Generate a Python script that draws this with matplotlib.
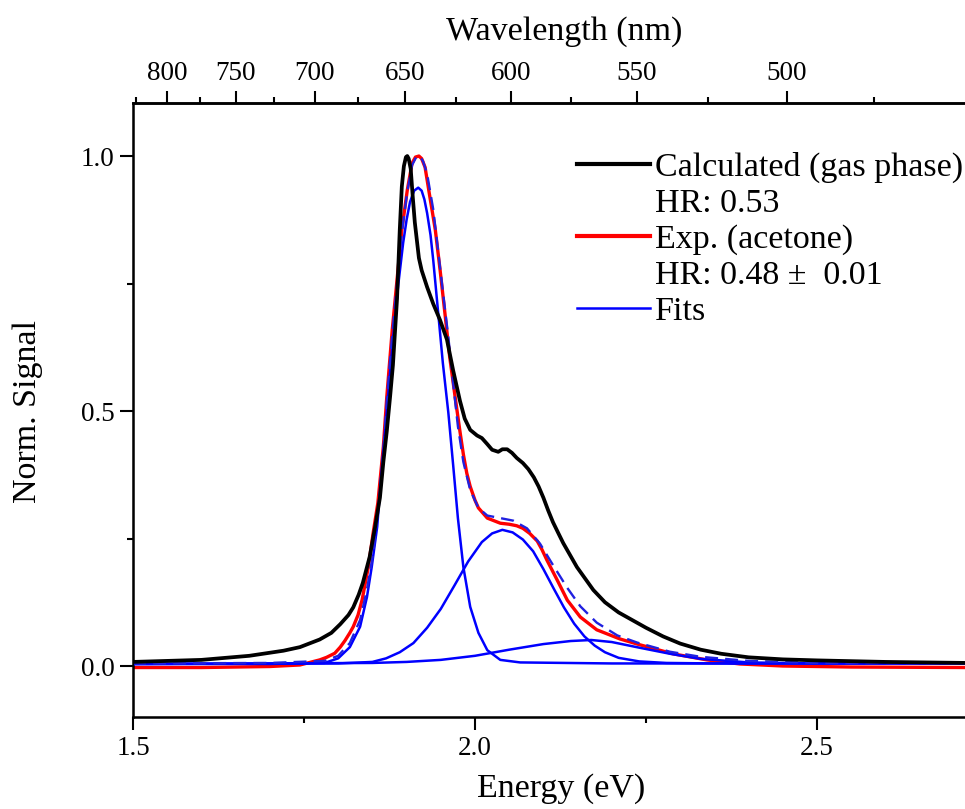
import matplotlib
matplotlib.use("Agg")
import matplotlib.pyplot as plt
from matplotlib.lines import Line2D

plt.rcParams['font.family'] = ['Liberation Serif', 'DejaVu Serif']

# calculated spectrum (gas phase)
calc_e = [1.50, 1.60, 1.67, 1.72, 1.744, 1.773, 1.79, 1.803, 1.815, 1.822, 1.83, 1.836, 1.846,
          1.854, 1.861, 1.866, 1.871, 1.876, 1.880, 1.886, 1.890, 1.893, 1.896, 1.899, 1.901,
          1.903, 1.906, 1.909, 1.912, 1.915, 1.918, 1.922, 1.930, 1.939, 1.949, 1.959, 1.968,
          1.978, 1.985, 1.993, 2.003, 2.010, 2.018, 2.025, 2.034, 2.040, 2.047, 2.054, 2.061,
          2.070, 2.078, 2.086, 2.093, 2.100, 2.107, 2.114, 2.122, 2.129, 2.149, 2.173, 2.19, 2.21,
          2.23, 2.25, 2.275, 2.30, 2.33, 2.36, 2.40, 2.45, 2.50, 2.60, 2.72]
calc_y = [0.008, 0.012, 0.020, 0.030, 0.037, 0.052, 0.065, 0.082, 0.100, 0.115, 0.140, 0.163, 0.214,
          0.273, 0.330, 0.400, 0.460, 0.530, 0.590, 0.720, 0.855, 0.940, 0.980, 0.998, 1.000,
          0.995, 0.975, 0.920, 0.870, 0.835, 0.800, 0.776, 0.743, 0.710, 0.678, 0.640, 0.580,
          0.520, 0.485, 0.463, 0.452, 0.447, 0.435, 0.424, 0.420, 0.425, 0.425, 0.418, 0.408,
          0.398, 0.386, 0.370, 0.352, 0.330, 0.305, 0.282, 0.260, 0.241, 0.194, 0.149, 0.125, 0.105,
          0.090, 0.075, 0.058, 0.044, 0.032, 0.024, 0.017, 0.013, 0.011, 0.008, 0.006]

# experiment (acetone)
exp_e = [1.50, 1.60, 1.70, 1.744, 1.773, 1.783, 1.795, 1.803, 1.81, 1.817, 1.822, 1.829, 1.835,
         1.844, 1.851, 1.858, 1.866, 1.871, 1.879, 1.886, 1.893, 1.901, 1.908, 1.913, 1.918,
         1.922, 1.927, 1.934, 1.942, 1.949, 1.956, 1.963, 1.971, 1.978, 1.983, 1.988, 1.993,
         2.000, 2.005, 2.018, 2.037, 2.050, 2.061, 2.070, 2.080, 2.091, 2.098, 2.105, 2.120,
         2.135, 2.154, 2.178, 2.212, 2.24, 2.289, 2.339, 2.387, 2.45, 2.55, 2.72]
exp_y = [-0.003, -0.003, -0.001, 0.002, 0.012, 0.017, 0.025, 0.037, 0.050, 0.065, 0.077, 0.100, 0.130,
         0.194, 0.260, 0.320, 0.430, 0.527, 0.659, 0.757, 0.855, 0.933, 0.986, 0.998, 1.000,
         0.995, 0.978, 0.920, 0.855, 0.776, 0.692, 0.606, 0.527, 0.460, 0.415, 0.378, 0.352,
         0.325, 0.310, 0.290, 0.280, 0.278, 0.275, 0.270, 0.260, 0.245, 0.228, 0.208, 0.169,
         0.129, 0.096, 0.071, 0.053, 0.042, 0.024, 0.012, 0.004, 0.000, -0.002, -0.003]

# fitted components
fit1_e = [1.50, 1.70, 1.78, 1.80, 1.817, 1.832, 1.842, 1.849, 1.857, 1.862, 1.871, 1.880, 1.888,
          1.895, 1.900, 1.905, 1.911, 1.917, 1.922, 1.926, 1.930, 1.935, 1.939, 1.946, 1.953,
          1.961, 1.968, 1.975, 1.983, 1.993, 2.005, 2.018, 2.037, 2.066, 2.20, 2.72]
fit1_y = [0.004, 0.004, 0.006, 0.015, 0.037, 0.077, 0.135, 0.194, 0.273, 0.360, 0.500, 0.640, 0.750,
          0.830, 0.875, 0.910, 0.932, 0.938, 0.932, 0.915, 0.888, 0.845, 0.795, 0.695, 0.594,
          0.497, 0.395, 0.290, 0.194, 0.116, 0.065, 0.031, 0.012, 0.007, 0.005, 0.005]

fit2_e = [1.50, 1.80, 1.85, 1.87, 1.89, 1.91, 1.93, 1.95, 1.97, 1.99, 2.01, 2.025, 2.04,
          2.055, 2.07, 2.085, 2.10, 2.115, 2.13, 2.145, 2.16, 2.175, 2.19, 2.21, 2.24,
          2.28, 2.35, 2.72]
fit2_y = [0.004, 0.005, 0.008, 0.015, 0.027, 0.045, 0.075, 0.112, 0.158, 0.205, 0.243, 0.260, 0.267,
          0.262, 0.248, 0.225, 0.190, 0.152, 0.115, 0.083, 0.058, 0.040, 0.027, 0.016, 0.009,
          0.006, 0.005, 0.005]

fit3_e = [1.50, 1.85, 1.90, 1.95, 2.00, 2.05, 2.10, 2.14, 2.17, 2.20, 2.24, 2.285, 2.33, 2.40,
          2.50, 2.72]
fit3_y = [0.004, 0.006, 0.008, 0.012, 0.020, 0.032, 0.043, 0.049, 0.051, 0.047, 0.036, 0.024, 0.014,
          0.007, 0.005, 0.005]

# sum of fits (dashed)
sum_e = [1.50, 1.70, 1.78, 1.80, 1.817, 1.832, 1.842, 1.851, 1.858, 1.866, 1.871, 1.879, 1.886,
         1.893, 1.901, 1.908, 1.914, 1.919, 1.924, 1.930, 1.939, 1.946, 1.953, 1.961, 1.968,
         1.975, 1.983, 1.993, 2.005, 2.018, 2.037, 2.056, 2.076, 2.095, 2.114, 2.135, 2.154,
         2.178, 2.208, 2.237, 2.285, 2.33, 2.40, 2.50, 2.72]
sum_y = [0.005, 0.006, 0.010, 0.020, 0.045, 0.090, 0.150, 0.220, 0.300, 0.420, 0.520, 0.650, 0.750,
         0.850, 0.930, 0.982, 0.998, 1.000, 0.990, 0.965, 0.895, 0.815, 0.735, 0.645, 0.555,
         0.470, 0.400, 0.345, 0.310, 0.295, 0.290, 0.285, 0.270, 0.240, 0.198, 0.153, 0.117,
         0.085, 0.060, 0.046, 0.028, 0.018, 0.010, 0.006, 0.005]

wl_major = [800, 750, 700, 650, 600, 550, 500]
wl_minor = [825, 775, 725, 675, 625, 575, 525, 475]

fig = plt.figure(figsize=(9.65, 8.09), dpi=100)
ax = fig.add_axes([133/965, 92/809, 834.5/965, 614/809])

ax.plot(exp_e, exp_y, color='#ff0000', lw=2.4, zorder=2)
for fe, fy in [(fit1_e, fit1_y), (fit2_e, fit2_y), (fit3_e, fit3_y)]:
    ax.plot(fe, fy, color='#0000ff', lw=1.8, zorder=3)
ax.plot(sum_e, sum_y, color='#2020e0', lw=1.7, ls=(0, (5.5, 3)), zorder=4)
ax.plot(calc_e, calc_y, color='black', lw=2.7, zorder=5)

ax.set_xlim(1.5, 1.5 + 834.5/684)
ax.set_ylim(-0.1, 1.104)
ax.set_xticks([1.5, 2.0, 2.5])
ax.set_xticks([1.75, 2.25], minor=True)
ax.set_yticks([0.0, 0.5, 1.0])
ax.set_yticks([0.25, 0.75], minor=True)
ax.set_xticklabels(['1.5', '2.0', '2.5'])
ax.set_yticklabels(['0.0', '0.5', '1.0'])
ax.tick_params(which='major', direction='out', length=9.3, width=1.5, labelsize=19.5)
ax.tick_params(which='minor', direction='out', length=4.5, width=1.5)
ax.tick_params(axis='x', which='major', pad=4.5)
ax.tick_params(axis='y', which='major', pad=4)
ax.tick_params(top=False, right=False, which='both')
for s in ['left', 'bottom', 'top']:
    ax.spines[s].set_linewidth(1.8)
ax.spines['right'].set_visible(False)

ax.set_xlabel('Energy (eV)', fontsize=24.5)
ax.set_ylabel('Norm. Signal', fontsize=24.5)
ax.xaxis.set_label_coords(0.513, -0.092)
ax.yaxis.set_label_coords(-0.108, 0.497)

# top axis in wavelength
ax2 = ax.twiny()
ax2.set_xlim(1.499, 1.499 + 834.5/666.7)
ax2.set_xticks([1240.0/w for w in wl_major])
ax2.set_xticklabels([str(w) for w in wl_major])
ax2.set_xticks([1240.0/w for w in wl_minor], minor=True)
ax2.tick_params(which='major', direction='out', length=9, width=1.5, labelsize=19.5, pad=3.5)
ax2.tick_params(which='minor', direction='out', length=4.5, width=1.5)
ax2.spines['right'].set_visible(False)
ax2.spines['top'].set_linewidth(1.8)
ax2.set_xlabel('Wavelength (nm)', fontsize=24.5)
ax2.xaxis.set_label_coords(0.517, 1.103)

handles = [Line2D([], [], color='black', lw=3),
           Line2D([], [], color='none'),
           Line2D([], [], color='#ff0000', lw=3),
           Line2D([], [], color='none'),
           Line2D([], [], color='#0000ff', lw=1.8)]
labels = ['Calculated (gas phase)', 'HR: 0.53', 'Exp. (acetone)',
          'HR: 0.48 \u00b1  0.01', 'Fits']
ax.legend(handles, labels, loc='upper left', bbox_to_anchor=(0.532, 0.921),
          frameon=False, fontsize=24.5, labelspacing=0.15, handlelength=2.15,
          handletextpad=0.15, borderpad=0, borderaxespad=0)

fig.savefig('out.png', dpi=100)
